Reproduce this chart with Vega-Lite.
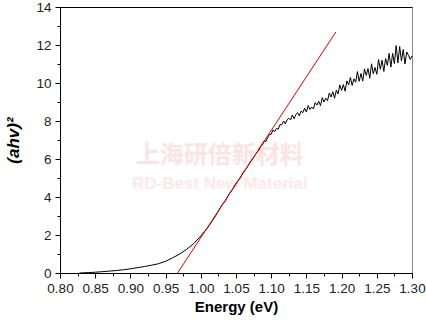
{
  "$schema": "https://vega.github.io/schema/vega-lite/v6.json",
  "width": 352,
  "height": 266,
  "autosize": "none",
  "padding": {"left": 60, "top": 7, "right": 14, "bottom": 51},
  "background": "white",
  "config": {
    "view": {"stroke": "#888888", "strokeWidth": 1},
    "font": "Liberation Sans",
    "axis": {"grid": false, "domainColor": "#000", "tickColor": "#000", "labelColor": "#222", "labelFont": "Liberation Sans", "labelFontSize": 13.5, "titleFont": "Liberation Sans", "titleColor": "#000"}
  },
  "datasets": {
    "curve": [
      {"E": 0.828, "v": 0.0}, {"E": 0.84, "v": 0.02}, {"E": 0.85, "v": 0.04}, {"E": 0.86, "v": 0.07},
      {"E": 0.87, "v": 0.1}, {"E": 0.88, "v": 0.13}, {"E": 0.89, "v": 0.17}, {"E": 0.9, "v": 0.22},
      {"E": 0.91, "v": 0.28}, {"E": 0.92, "v": 0.34}, {"E": 0.93, "v": 0.41}, {"E": 0.94, "v": 0.49},
      {"E": 0.95, "v": 0.62}, {"E": 0.96, "v": 0.8}, {"E": 0.97, "v": 1.0}, {"E": 0.98, "v": 1.25},
      {"E": 0.99, "v": 1.55}, {"E": 1.0, "v": 1.95}, {"E": 1.01, "v": 2.4}, {"E": 1.02, "v": 2.95},
      {"E": 1.025, "v": 3.25}, {"E": 1.03, "v": 3.58}, {"E": 1.035, "v": 3.8}, {"E": 1.04, "v": 4.15},
      {"E": 1.045, "v": 4.4}, {"E": 1.05, "v": 4.72}, {"E": 1.055, "v": 4.95}, {"E": 1.06, "v": 5.28},
      {"E": 1.065, "v": 5.52}, {"E": 1.07, "v": 5.83}, {"E": 1.075, "v": 6.08},
      {"E": 1.08, "v": 6.37}, {"E": 1.0825, "v": 6.45}, {"E": 1.085, "v": 6.69}, {"E": 1.0875, "v": 6.74},
      {"E": 1.09, "v": 6.95}, {"E": 1.0925, "v": 6.92}, {"E": 1.095, "v": 7.13}, {"E": 1.0975, "v": 7.3},
      {"E": 1.1, "v": 7.3}, {"E": 1.1025, "v": 7.53}, {"E": 1.105, "v": 7.44}, {"E": 1.1075, "v": 7.61},
      {"E": 1.11, "v": 7.57}, {"E": 1.1125, "v": 7.81}, {"E": 1.115, "v": 7.8}, {"E": 1.1175, "v": 8.0},
      {"E": 1.12, "v": 7.85}, {"E": 1.1225, "v": 8.06}, {"E": 1.125, "v": 8.15}, {"E": 1.1275, "v": 8.05},
      {"E": 1.13, "v": 8.32}, {"E": 1.1325, "v": 8.12}, {"E": 1.135, "v": 8.33}, {"E": 1.1375, "v": 8.44},
      {"E": 1.14, "v": 8.27}, {"E": 1.1425, "v": 8.52}, {"E": 1.145, "v": 8.44}, {"E": 1.1475, "v": 8.68},
      {"E": 1.15, "v": 8.47}, {"E": 1.1525, "v": 8.81}, {"E": 1.155, "v": 8.61}, {"E": 1.1575, "v": 8.74},
      {"E": 1.16, "v": 8.63}, {"E": 1.1625, "v": 8.97}, {"E": 1.165, "v": 8.84}, {"E": 1.1675, "v": 9.04},
      {"E": 1.17, "v": 8.81}, {"E": 1.1725, "v": 9.23}, {"E": 1.175, "v": 9.0}, {"E": 1.1775, "v": 9.2},
      {"E": 1.18, "v": 9.07}, {"E": 1.1825, "v": 9.47}, {"E": 1.185, "v": 9.26}, {"E": 1.1875, "v": 9.54},
      {"E": 1.19, "v": 9.2}, {"E": 1.1925, "v": 9.62}, {"E": 1.195, "v": 9.43}, {"E": 1.1975, "v": 9.9},
      {"E": 1.2, "v": 9.61}, {"E": 1.2025, "v": 9.92}, {"E": 1.205, "v": 9.57}, {"E": 1.2075, "v": 10.11},
      {"E": 1.21, "v": 9.9}, {"E": 1.2125, "v": 10.29}, {"E": 1.215, "v": 9.87}, {"E": 1.2175, "v": 10.22},
      {"E": 1.22, "v": 10.04}, {"E": 1.2225, "v": 10.6}, {"E": 1.225, "v": 10.09}, {"E": 1.2275, "v": 10.5},
      {"E": 1.23, "v": 10.1}, {"E": 1.2325, "v": 10.74}, {"E": 1.235, "v": 10.4}, {"E": 1.2375, "v": 10.76},
      {"E": 1.24, "v": 10.25}, {"E": 1.2425, "v": 11.01}, {"E": 1.245, "v": 10.49}, {"E": 1.2475, "v": 10.82},
      {"E": 1.25, "v": 10.46}, {"E": 1.2525, "v": 11.23}, {"E": 1.255, "v": 10.72}, {"E": 1.2575, "v": 11.2},
      {"E": 1.26, "v": 10.61}, {"E": 1.2625, "v": 11.29}, {"E": 1.265, "v": 10.93}, {"E": 1.2675, "v": 11.56},
      {"E": 1.27, "v": 10.84}, {"E": 1.2725, "v": 11.56}, {"E": 1.275, "v": 11.02}, {"E": 1.2775, "v": 11.97},
      {"E": 1.28, "v": 11.06}, {"E": 1.2825, "v": 11.92}, {"E": 1.285, "v": 11.16}, {"E": 1.2875, "v": 11.76},
      {"E": 1.29, "v": 11.0}, {"E": 1.2925, "v": 11.63}, {"E": 1.295, "v": 11.46}, {"E": 1.2975, "v": 11.24},
      {"E": 1.3, "v": 11.42}
    ],
    "fit": [
      {"E": 0.967, "v": 0.0},
      {"E": 1.192, "v": 12.69}
    ],
    "wm_cn": [{"label": "上海研倍新材料"}],
    "wm_en": [{"label": "RD-Best New Material"}]
  },
  "resolve": {"axis": {"x": "independent", "y": "independent"}},
  "layer": [
    {
      "data": {"name": "wm_cn"},
      "mark": {"type": "text", "font": "Noto Sans CJK SC", "fontWeight": "bold", "fontSize": 24, "color": "#fce3e3", "align": "center", "baseline": "middle"},
      "encoding": {
        "x": {"datum": 1.027, "type": "quantitative", "scale": {"domain": [0.8, 1.3], "nice": false}, "axis": {"orient": "top", "labels": false, "ticks": false, "title": null, "domainColor": "#000"}},
        "y": {"datum": 6.15, "type": "quantitative", "scale": {"domain": [0, 14], "nice": false}, "axis": null},
        "text": {"field": "label"}
      }
    },
    {
      "data": {"name": "wm_en"},
      "mark": {"type": "text", "font": "Liberation Sans", "fontWeight": "bold", "fontSize": 17, "color": "#fde9e9", "align": "center", "baseline": "middle"},
      "encoding": {
        "x": {"datum": 1.027, "type": "quantitative", "axis": null},
        "y": {"datum": 4.7, "type": "quantitative", "axis": null},
        "text": {"field": "label"}
      }
    },
    {
      "data": {"name": "curve"},
      "mark": {"type": "line", "color": "#000", "strokeWidth": 1, "interpolate": "linear"},
      "encoding": {
        "x": {"field": "E", "type": "quantitative", "axis": {
          "orient": "bottom",
          "values": [0.8, 0.85, 0.9, 0.95, 1.0, 1.05, 1.1, 1.15, 1.2, 1.25, 1.3],
          "format": ".2f",
          "labelOverlap": false,
          "labelFlush": false,
          "tickSize": 5,
          "labelPadding": 3,
          "title": "Energy (eV)",
          "titleFontSize": 15,
          "titleFontWeight": "bold",
          "titlePadding": 5
        }},
        "y": {"field": "v", "type": "quantitative", "axis": {
          "orient": "left",
          "values": [0, 2, 4, 6, 8, 10, 12, 14],
          "labelOverlap": false,
          "labelFlush": false,
          "tickSize": 5,
          "labelPadding": 4,
          "title": "(ahv)²",
          "titleFontSize": 17,
          "titleFontWeight": "bold",
          "titleFontStyle": "italic",
          "titlePadding": 13
        }}
      }
    },
    {
      "data": {"name": "fit"},
      "mark": {"type": "line", "color": "#e00000", "strokeWidth": 1},
      "encoding": {
        "x": {"field": "E", "type": "quantitative", "axis": {"orient": "bottom", "values": [0.825, 0.875, 0.925, 0.975, 1.025, 1.075, 1.125, 1.175, 1.225, 1.275], "labels": false, "domain": false, "tickSize": 3, "title": null}},
        "y": {"field": "v", "type": "quantitative", "axis": {"orient": "left", "values": [1, 3, 5, 7, 9, 11, 13], "labels": false, "domain": false, "tickSize": 3, "title": null}}
      }
    }
  ]
}
